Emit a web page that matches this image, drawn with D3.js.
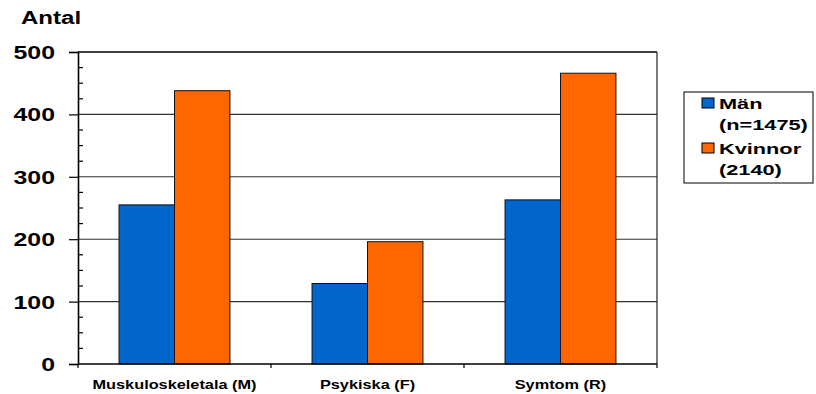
<!DOCTYPE html>
<html>
<head>
<meta charset="utf-8">
<script src="https://cdn.jsdelivr.net/npm/d3@7"></script>
<style>
  html, body { margin: 0; padding: 0; background: #fff; }
  svg text { font-family: "Liberation Sans", Arial, sans-serif; font-weight: bold; fill: #000; }
</style>
</head>
<body>
<svg id="chart" width="816" height="394"></svg>
<script>
const categories = ["Muskuloskeletala (M)", "Psykiska (F)", "Symtom (R)"];
const seriesNames = ["Män", "Kvinnor"];
const legendLines = [["Män", "(n=1475)"], ["Kvinnor", "(2140)"]];
const manValues = [255, 129, 263];
const kvinnorValues = [438, 196, 466];
const yTicks = [0, 100, 200, 300, 400, 500];
const yMinorTicks = d3.range(0, 501, 25);
const colors = ["#0066CC", "#FF6600"];
const yTitle = "Antal";

const svg = d3.select("#chart");
const L = 78, R = 657, T = 52, B = 364;

const x = d3.scaleBand().domain(categories).range([L, R]).paddingInner(0).paddingOuter(0);
const xi = d3.scaleBand().domain(seriesNames).range([0, x.bandwidth()]).paddingInner(0).paddingOuter(0.74);
const y = d3.scaleLinear().domain([0, 500]).range([B, T]);

// gridlines
svg.append("g").selectAll("line").data(yTicks.filter(d => d > 0 && d < 500)).join("line")
  .attr("x1", L).attr("x2", R).attr("y1", d => y(d)).attr("y2", d => y(d))
  .attr("stroke", "#333").attr("stroke-width", 1.1);
// top and right border
svg.append("line").attr("x1", L).attr("x2", R).attr("y1", y(500)).attr("y2", y(500)).attr("stroke", "#000").attr("stroke-width", 1.3);
svg.append("line").attr("x1", R).attr("x2", R).attr("y1", T).attr("y2", B).attr("stroke", "#222").attr("stroke-width", 1.2);

// bars
const data = categories.map((c, i) => ({ c, vals: [manValues[i], kvinnorValues[i]] }));
const groups = svg.append("g").selectAll("g").data(data).join("g")
  .attr("transform", d => `translate(${x(d.c)},0)`);
groups.selectAll("rect").data(d => d.vals.map((v, j) => ({ v, s: seriesNames[j], j }))).join("rect")
  .attr("x", d => xi(d.s)).attr("width", xi.bandwidth())
  .attr("y", d => y(d.v)).attr("height", d => y(0) - y(d.v))
  .attr("fill", d => colors[d.j]).attr("stroke", "#111").attr("stroke-width", 1);

// y axis
const yAxisG = svg.append("g").attr("transform", `translate(${L},0)`);
yAxisG.call(d3.axisLeft(y).tickValues(yTicks).tickSize(9).tickFormat(() => ""));
yAxisG.select(".domain").attr("stroke", "#000").attr("stroke-width", 1.6);
yAxisG.selectAll(".tick line").attr("stroke", "#000").attr("stroke-width", 1.2);
// minor ticks inside
svg.append("g").selectAll("line").data(yMinorTicks.filter(d => d % 100 !== 0)).join("line")
  .attr("x1", L).attr("x2", L + 5).attr("y1", d => y(d)).attr("y2", d => y(d))
  .attr("stroke", "#000").attr("stroke-width", 1.2);
// y labels
svg.append("g").selectAll("text").data(yTicks).join("text")
  .attr("transform", d => `translate(55,${y(d) + 7}) scale(1.31,1)`)
  .attr("text-anchor", "end").attr("font-size", 19).text(d => d);

// x axis
const xAxisG = svg.append("g").attr("transform", `translate(0,${B})`);
xAxisG.append("line").attr("x1", L).attr("x2", R).attr("stroke", "#000").attr("stroke-width", 1.6);
const bounds = [L].concat(categories.map(c => x(c) + x.bandwidth()));
xAxisG.selectAll("line.tk").data(bounds).join("line").attr("class", "tk")
  .attr("x1", d => d).attr("x2", d => d).attr("y1", 0).attr("y2", 4)
  .attr("stroke", "#000").attr("stroke-width", 1.2);
svg.append("g").selectAll("text").data(categories).join("text")
  .attr("transform", d => `translate(${x(d) + x.bandwidth() / 2},389) scale(1.36,1)`)
  .attr("text-anchor", "middle").attr("font-size", 12).text(d => d);

// y title
svg.append("text").attr("transform", "translate(21,24) scale(1.3,1)").attr("font-size", 18.5).text(yTitle);

// legend
const lg = svg.append("g");
lg.append("rect").attr("x", 684).attr("y", 92).attr("width", 129).attr("height", 91)
  .attr("fill", "#fff").attr("stroke", "#000").attr("stroke-width", 1);
const items = lg.selectAll("g").data(legendLines).join("g")
  .attr("transform", (d, i) => `translate(0,${i * 45})`);
items.append("rect").attr("x", 702).attr("y", 98).attr("width", 12).attr("height", 10)
  .attr("fill", (d, i) => colors[i]).attr("stroke", "#000").attr("stroke-width", 1);
items.selectAll("text").data(d => d).join("text")
  .attr("transform", (d, k) => `translate(719,${108.5 + k * 21}) scale(1.5,1)`)
  .attr("font-size", 14.5).text(d => d);
</script>
</body>
</html>
